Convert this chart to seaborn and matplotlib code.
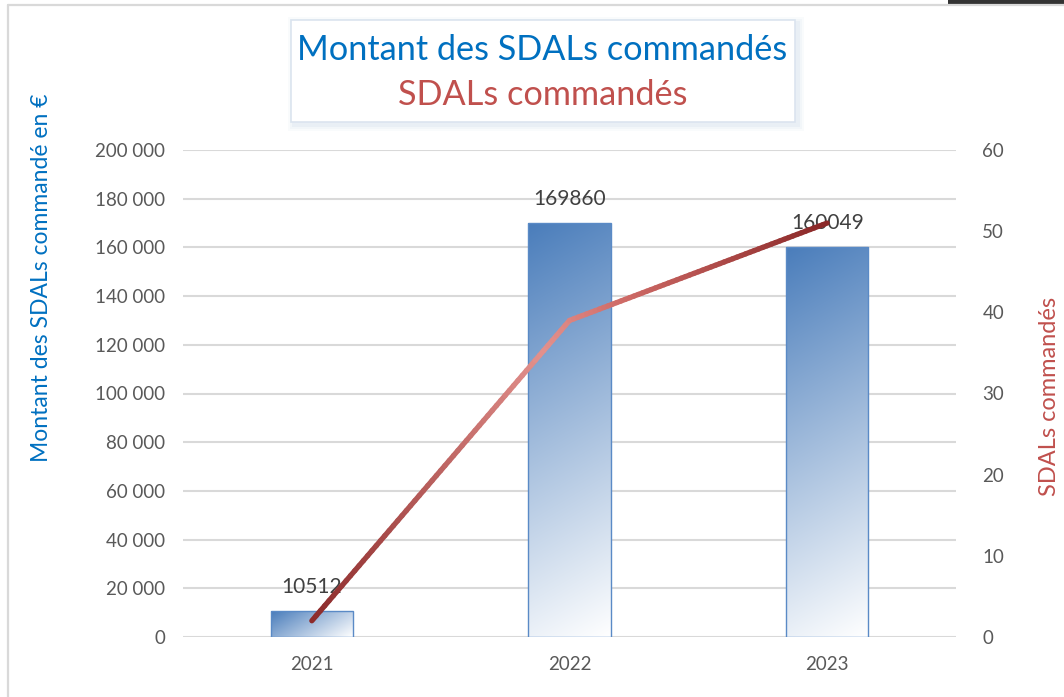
import numpy as np
import pandas as pd
import matplotlib
matplotlib.use("Agg")
import matplotlib.pyplot as plt
import seaborn as sns
from matplotlib.collections import LineCollection
from matplotlib.colors import to_rgb, LinearSegmentedColormap
from matplotlib.patches import Rectangle
from matplotlib.lines import Line2D

# ---- data ----
years = ["2021", "2022", "2023"]
montants = [10512, 169860, 160049]
sdals = [2, 39, 51]
left_ticks = [0, 20000, 40000, 60000, 80000, 100000, 120000, 140000, 160000, 180000, 200000]
right_ticks = [0, 10, 20, 30, 40, 50, 60]

sns.set_theme(style="white")
plt.rcParams["font.family"] = ["Lato", "DejaVu Sans"]

W, H = 1064, 697
fig = plt.figure(figsize=(W / 100, H / 100), dpi=100)
ax_l, ax_r, ax_b, ax_t = 183, 956, 637, 150
ax = fig.add_axes([ax_l / W, 1 - ax_b / H, (ax_r - ax_l) / W, (ax_b - ax_t) / H])

df = pd.DataFrame({"year": years, "montant": montants})
sns.barplot(data=df, x="year", y="montant", ax=ax, width=0.32, color="#4f81bd",
            zorder=3)
ax.set_ylim(0, 200000)
ax.set_xlim(-0.5, 2.5)

# gradient fill in bars (diagonal in pixel space)
blue = np.array(to_rgb("#4a7dbb"))
white = np.array([1.0, 1.0, 1.0])
axw_px = ax_r - ax_l
axh_px = ax_b - ax_t
for p in ax.patches:
    x0, y0 = p.get_x(), p.get_y()
    w, h = p.get_width(), p.get_height()
    wpx = max(2, int(round(w / 3.0 * axw_px)))
    hpx = max(2, int(round(h / 200000 * axh_px)))
    xx, yy = np.meshgrid(np.arange(wpx), np.arange(hpx))
    a = 0.6
    t = (a * xx + yy) / float(a * (wpx - 1) + hpx - 1)
    img = blue[None, None, :] * (1 - t[..., None]) + white[None, None, :] * t[..., None]
    im = ax.imshow(img, extent=(x0, x0 + w, y0, y0 + h), origin="upper",
                   aspect="auto", interpolation="bilinear", zorder=2)
    im.set_clip_path(p)
    p.set_facecolor("none")
    p.set_edgecolor("#5a8ac6")
    p.set_linewidth(1.0)
ax.set_ylim(0, 200000)
ax.set_xlim(-0.5, 2.5)

# data labels
for i, v in enumerate(montants):
    ax.annotate(f"{v}", (i, v), xytext=(0, 24), textcoords="offset pixels",
                ha="center", va="center", fontsize=15, color="#404040", zorder=6)

ax.set_yticks(left_ticks)
ax.set_yticklabels([f"{v:,}".replace(",", " ") for v in left_ticks])
ax.grid(axis="y", color="#d9d9d9", linewidth=1.5, zorder=0)
ax.set_axisbelow(True)
for s in ax.spines.values():
    s.set_visible(False)
ax.tick_params(axis="y", length=0, pad=13, labelsize=13.5, labelcolor="#595959")
ax.tick_params(axis="x", length=0, pad=14, labelsize=13.5, labelcolor="#595959")
ax.set_xlabel("")
ax.set_ylabel("")

# secondary axis with gradient line
ax2 = ax.twinx()
ax2.set_ylim(0, 60)
ax2.set_yticks(right_ticks)
ax2.tick_params(axis="y", length=0, pad=19, labelsize=13.5, labelcolor="#595959")
for s in ax2.spines.values():
    s.set_visible(False)
ax2.grid(False)

xs = np.arange(len(years), dtype=float)
ys = np.array(sdals, dtype=float)
pts = []
n = 60
for k in range(len(xs) - 1):
    for j in range(n):
        f = j / n
        pts.append((xs[k] + f * (xs[k + 1] - xs[k]), ys[k] + f * (ys[k + 1] - ys[k])))
pts.append((xs[-1], ys[-1]))
pts = np.array(pts)
segs = np.stack([pts[:-1], pts[1:]], axis=1)
cmap = LinearSegmentedColormap.from_list("lg", [(0, "#8c2a2a"), (0.45, "#e3918d"),
                                                (0.6, "#d06c68"), (1.0, "#8a2828")])
cvals = (segs[:, 0, 0] + segs[:, 1, 0]) / 2 / xs[-1]
lc = LineCollection(segs, colors=cmap(cvals), linewidths=3.8, capstyle="round",
                    joinstyle="round", zorder=5)
ax2.add_collection(lc)
ax2.set_xlim(-0.5, 2.5)

# axis titles
fig.text(42 / W, 1 - 278 / H, "Montant des SDALs commandé en €", rotation=90,
         ha="center", va="center", fontsize=16.5, color="#0070c0")
fig.text(1050 / W, 1 - 396 / H, "SDALs commandés", rotation=90,
         ha="center", va="center", fontsize=17, color="#c0504d")

# title box with soft shadow
bx0, bx1, by0, by1 = 291, 795, 20, 122
for k, al in [(6, 0.04), (4, 0.05), (2, 0.07)]:
    fig.patches.append(Rectangle(((bx0 - k + 3) / W, 1 - (by1 + k + 3) / H),
                                 (bx1 - bx0 + 2 * k) / W, (by1 - by0 + 2 * k) / H,
                                 transform=fig.transFigure, facecolor="#7f9fc8",
                                 edgecolor="none", alpha=al, zorder=1))
fig.patches.append(Rectangle((bx0 / W, 1 - by1 / H), (bx1 - bx0) / W, (by1 - by0) / H,
                             transform=fig.transFigure, facecolor="white",
                             edgecolor="#dbe4ef", linewidth=1.2, zorder=2))
fig.text(542 / W, 1 - 50 / H, "Montant des SDALs commandés", ha="center", va="center",
         fontsize=24.7, color="#0070c0", zorder=3)
fig.text(543 / W, 1 - 95 / H, "SDALs commandés", ha="center", va="center",
         fontsize=24.7, color="#c0504d", zorder=3)

# chart frame edges and screenshot artifact
fig.lines.append(Line2D([8 / W, 8 / W], [0, 1 - 5 / H], transform=fig.transFigure,
                        color="#d9d9d9", linewidth=1.6))
fig.lines.append(Line2D([8 / W, 1], [1 - 5 / H, 1 - 5 / H], transform=fig.transFigure,
                        color="#d9d9d9", linewidth=1.6))
fig.patches.append(Rectangle((948 / W, 1 - 4 / H), (W - 948) / W, 4 / H,
                             transform=fig.transFigure, facecolor="#333333",
                             edgecolor="none"))

fig.savefig("out.png", dpi=100)
